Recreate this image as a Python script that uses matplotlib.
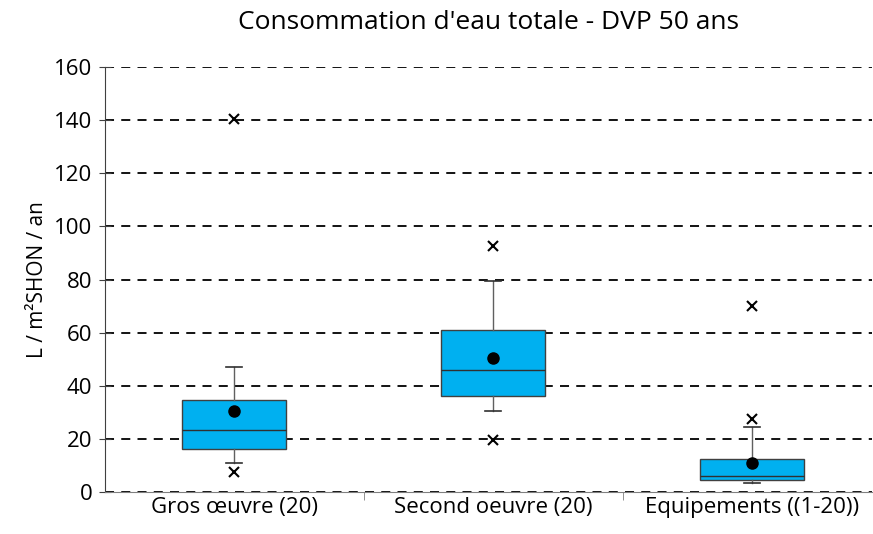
import matplotlib.pyplot as plt
from matplotlib.ticker import FixedLocator

plt.rcParams['font.family'] = ['Open Sans', 'DejaVu Sans']

categories = ['Gros œuvre (20)', 'Second oeuvre (20)', 'Equipements ((1-20))']
q1 = [16.2, 36.2, 4.5]
median = [23.4, 46.0, 6.0]
q3 = [34.7, 60.8, 12.5]
whislo = [10.9, 30.6, 3.4]
whishi = [47.2, 79.6, 24.5]
mean = [30.6, 50.6, 11.0]
outliers = [[140.5, 7.5], [92.8, 19.6], [70.2, 27.5]]

stats = []
for i in range(len(categories)):
    stats.append({'q1': q1[i], 'med': median[i], 'q3': q3[i],
                  'whislo': whislo[i], 'whishi': whishi[i],
                  'mean': mean[i], 'fliers': outliers[i], 'label': categories[i]})

fig = plt.figure(figsize=(8.73, 5.34), dpi=100)
ax = fig.add_axes([0.12, 0.079, 0.879, 0.795])

positions = [1, 2, 3]
ax.bxp(stats, positions=positions, widths=0.4, patch_artist=True,
       showmeans=True, showfliers=True,
       boxprops=dict(facecolor='#00B0F0', edgecolor='#404040', linewidth=1),
       medianprops=dict(color='#303030', linewidth=1),
       whiskerprops=dict(color='#606060', linewidth=1),
       capprops=dict(color='#303030', linewidth=1.2),
       capwidths=0.06,
       meanprops=dict(marker='o', markerfacecolor='black', markeredgecolor='black', markersize=8),
       flierprops=dict(marker='x', markeredgecolor='black', markersize=7, markeredgewidth=1.5),
       zorder=3)

ax.set_ylim(0, 160)
ax.set_xlim(0.5, 3.463)
ax.set_yticks(range(0, 161, 20))
ax.yaxis.grid(True, linestyle=(0, (5, 4)), color='black', linewidth=1.3)
ax.set_axisbelow(True)

ax.set_xticks(positions)
ax.set_xticklabels(categories, fontsize=16)
ax.tick_params(axis='x', length=0, pad=4)
ax.xaxis.set_minor_locator(FixedLocator([1.5, 2.5]))
ax.tick_params(axis='x', which='minor', length=6, color='#808080', direction='out')
ax.tick_params(axis='y', labelsize=16, direction='inout', length=8, color='#404040', pad=5)

for s in ['top', 'right']:
    ax.spines[s].set_visible(False)
ax.spines['left'].set_color('#404040')
ax.spines['bottom'].set_color('#808080')

ax.set_ylabel('L / m²SHON / an', fontsize=15, labelpad=4)
fig.text(0.56, 0.958, "Consommation d'eau totale - DVP 50 ans", ha='center', va='center', fontsize=19)

fig.savefig('out.png', dpi=100)
